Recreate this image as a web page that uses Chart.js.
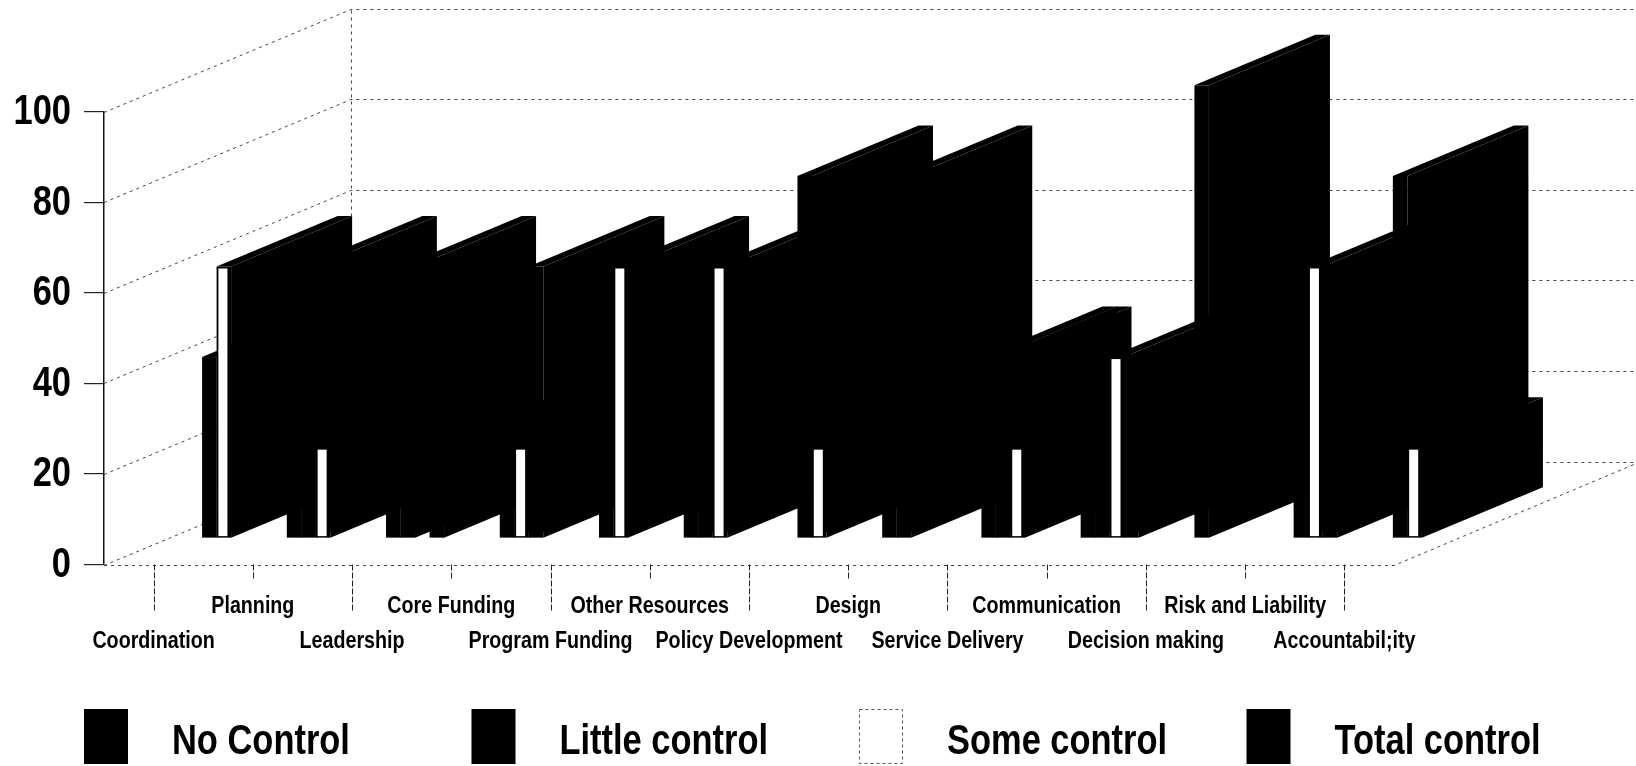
<!DOCTYPE html>
<html>
<head>
<meta charset="utf-8">
<script src="https://cdn.jsdelivr.net/npm/chart.js@4/dist/chart.umd.min.js"></script>
<style>
  html, body { margin: 0; padding: 0; background: #fff; overflow: hidden; }
  canvas { display: block; }
</style>
</head>
<body>
<canvas id="chart" width="1636" height="766"></canvas>
<script>
// ---- data ----
const categories = [
  'Coordination', 'Planning', 'Leadership', 'Core Funding', 'Program Funding',
  'Other Resources', 'Policy Development', 'Design', 'Service Delivery',
  'Communication', 'Decision making', 'Risk and Liability', 'Accountabil;ity'
];
const seriesNames = ['No Control', 'Little control', 'Some control', 'Total control'];
const noControl     = [0, 20, 20, 0, 0, 20, 0, 20, 40, 20, 0, 0, 0];
const littleControl = [40, 60, 60, 20, 40, 20, 80, 80, 40, 20, 100, 20, 80];
const someControl   = [60, 20, 0, 20, 60, 60, 20, 0, 20, 40, 0, 60, 20];
const totalControl  = [0, 0, 20, 60, 0, 0, 0, 0, 0, 20, 0, 20, 0];
const yTicks = [0, 20, 40, 60, 80, 100];

// ---- look ----
const FONT = "'Liberation Sans', Arial, sans-serif";
const SQUEEZE = 0.82;                       // condensed lettering
const FACE = ['#000000', '#000000', '#ffffff', '#000000'];
const DEPTH = { x: 247, y: -103 };          // oblique offset from front plane to back wall
const BAR_FRONT = 0.255, BAR_BACK = 0.745;  // depth slice occupied by the columns

function narrowText(ctx, text, x, y, align, font) {
  ctx.save();
  ctx.font = font;
  ctx.textAlign = align;
  ctx.textBaseline = 'middle';
  ctx.fillStyle = '#000';
  ctx.translate(x, y);
  ctx.scale(SQUEEZE, 1);
  ctx.fillText(text, 0, 0);
  ctx.restore();
}

// walls, floor, columns, axis lettering and legend
const box3d = {
  id: 'box3d',
  beforeDatasetsDraw(chart) {
    const { ctx, chartArea: a, scales: { x, y } } = chart;
    const y0 = y.getPixelForValue(0);
    const yTop = y.getPixelForValue(100);
    ctx.save();
    ctx.strokeStyle = '#444';
    ctx.lineWidth = 1;
    ctx.setLineDash([3, 4]);
    ctx.beginPath();
    y.ticks.forEach(t => {
      const py = Math.round(y.getPixelForValue(t.value)) + 0.5;
      ctx.moveTo(a.left, py);
      ctx.lineTo(a.left + DEPTH.x, py + DEPTH.y);
      ctx.lineTo(a.right + DEPTH.x, py + DEPTH.y);
    });
    ctx.moveTo(Math.round(a.left + DEPTH.x) + 0.5, y0 + DEPTH.y);
    ctx.lineTo(Math.round(a.left + DEPTH.x) + 0.5, yTop + DEPTH.y);
    ctx.moveTo(a.left, Math.round(y0) + 0.5);
    ctx.lineTo(a.right, Math.round(y0) + 0.5);
    ctx.lineTo(a.right + DEPTH.x, y0 + DEPTH.y);
    ctx.stroke();

    ctx.strokeStyle = '#222';
    ctx.setLineDash([6, 2]);
    ctx.beginPath();
    categories.forEach((c, i) => {
      const px = Math.round(x.getPixelForValue(i)) + 0.5;
      ctx.moveTo(px, y0);
      ctx.lineTo(px, y0 + (i % 2 ? 16 : 46));
    });
    ctx.stroke();
    ctx.restore();
  },
  beforeDatasetDraw() {
    return false; // columns are drawn as prisms below
  },
  afterDatasetsDraw(chart) {
    const { ctx } = chart;
    const ox = DEPTH.x * BAR_FRONT, oy = DEPTH.y * BAR_FRONT;
    const dx = DEPTH.x * (BAR_BACK - BAR_FRONT), dy = DEPTH.y * (BAR_BACK - BAR_FRONT);
    const metas = chart.data.datasets.map((d, i) => chart.getDatasetMeta(i));
    ctx.save();
    for (let i = 0; i < categories.length; i++) {
      metas.forEach((meta, di) => {
        const ds = chart.data.datasets[di];
        if (!ds.data[i]) return;
        const { x, y, base, width } = meta.data[i].getProps(['x', 'y', 'base', 'width'], true);
        const xl = x - width / 2 + ox, xr = x + width / 2 + ox;
        const yt = y + oy, yb = base + oy;
        ctx.fillStyle = '#000';
        // right side face
        ctx.beginPath();
        ctx.moveTo(xr, yb);
        ctx.lineTo(xr + dx, yb + dy);
        ctx.lineTo(xr + dx, yt + dy);
        ctx.lineTo(xr, yt);
        ctx.closePath();
        ctx.fill();
        // top face
        ctx.beginPath();
        ctx.moveTo(xl, yt);
        ctx.lineTo(xl + dx, yt + dy);
        ctx.lineTo(xr + dx, yt + dy);
        ctx.lineTo(xr, yt);
        ctx.closePath();
        ctx.fill();
        // front face
        ctx.fillRect(xl, yt, xr - xl, yb - yt);
        if (ds.faceColor !== '#000000') {
          ctx.fillStyle = ds.faceColor;
          ctx.fillRect(xl + 1.8, yt + 2, (xr - xl) - 5.5, (yb - yt) - 3.5);
        }
      });
    }
    ctx.restore();
  },
  afterDraw(chart) {
    const { ctx, chartArea: a, scales: { x, y } } = chart;
    // value axis lettering
    y.ticks.forEach(t => {
      narrowText(ctx, String(t.value), a.left - 33, y.getPixelForValue(t.value) + 1, 'right', `bold 42px ${FONT}`);
    });
    // category lettering, staggered on two rows
    const y0 = y.getPixelForValue(0);
    categories.forEach((c, i) => {
      narrowText(ctx, c, x.getPixelForValue(i), y0 + (i % 2 ? 42 : 77), 'center', `bold 24px ${FONT}`);
    });
    // legend
    ctx.save();
    chart.data.datasets.forEach((ds, i) => {
      const sx = 84 + 387.5 * i, sy = 709, sw = 44, sh = 55;
      if (ds.faceColor === '#000000') {
        ctx.fillStyle = '#000';
        ctx.fillRect(sx, sy, sw, sh);
      } else {
        ctx.fillStyle = ds.faceColor;
        ctx.fillRect(sx, sy, sw, sh);
        ctx.strokeStyle = '#555';
        ctx.lineWidth = 1;
        ctx.setLineDash([3, 3]);
        ctx.strokeRect(sx + 0.5, sy + 0.5, sw - 1, sh - 1);
        ctx.setLineDash([]);
      }
      narrowText(ctx, ds.label, sx + 88, sy + 33, 'left', `bold 42px ${FONT}`);
    });
    ctx.restore();
  }
};

const seriesValues = [noControl, littleControl, someControl, totalControl];

new Chart(document.getElementById('chart'), {
  type: 'bar',
  data: {
    labels: categories,
    datasets: seriesNames.map((name, i) => ({
      label: name,
      data: seriesValues[i],
      faceColor: FACE[i],
      backgroundColor: FACE[i],
      categoryPercentage: 0.585,
      barPercentage: 1.0
    }))
  },
  options: {
    responsive: false,
    devicePixelRatio: 1,
    animation: false,
    layout: { padding: { left: 0, top: 111.6, right: 242, bottom: 101.5 } },
    plugins: { legend: { display: false }, tooltip: { enabled: false } },
    scales: {
      x: {
        grid: { display: false },
        border: { display: false },
        ticks: { display: false },
        afterFit: s => { s.height = 100; }
      },
      y: {
        min: 0,
        max: 100,
        afterBuildTicks: s => { s.ticks = yTicks.map(v => ({ value: v })); },
        grid: { drawOnChartArea: false, drawTicks: true, tickLength: 20, color: '#222', lineWidth: 1.2 },
        border: { display: true, color: '#111', width: 1.5 },
        ticks: { display: false },
        afterFit: s => { s.width = 104; }
      }
    }
  },
  plugins: [box3d]
});
</script>
</body>
</html>
